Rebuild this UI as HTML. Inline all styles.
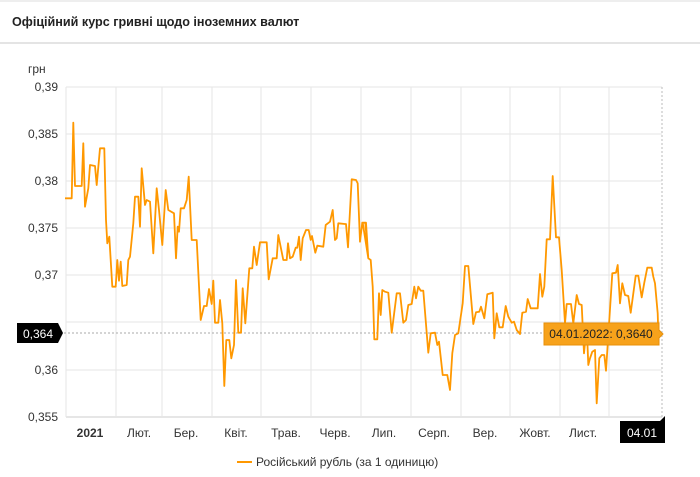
<!DOCTYPE html>
<html><head><meta charset="utf-8"><style>
body{margin:0;width:700px;height:477px;background:#fff;font-family:"Liberation Sans",sans-serif;overflow:hidden;position:relative}
.hdr{position:absolute;left:0;top:0;width:700px;height:44px;border-top:2px solid #eee;border-bottom:2px solid #e4e4e4;box-sizing:border-box}
.hdr span{position:absolute;left:12px;top:13px;font-size:12.6px;font-weight:bold;color:#222}
</style></head><body>
<div class="hdr"><span>Офіційний курс гривні щодо іноземних валют</span></div>
<svg width="700" height="477" style="position:absolute;left:0;top:0" font-family="Liberation Sans, sans-serif">
<g stroke="#e6e6e6" stroke-width="1">
<line x1="66" x2="662" y1="87" y2="87"/><line x1="66" x2="662" y1="134" y2="134"/><line x1="66" x2="662" y1="181" y2="181"/><line x1="66" x2="662" y1="228" y2="228"/><line x1="66" x2="662" y1="275" y2="275"/><line x1="66" x2="662" y1="322" y2="322"/><line x1="66" x2="662" y1="370" y2="370"/>
<line x1="66" x2="66" y1="87" y2="417"/><line x1="116" x2="116" y1="87" y2="417"/><line x1="162" x2="162" y1="87" y2="417"/><line x1="212" x2="212" y1="87" y2="417"/><line x1="261" x2="261" y1="87" y2="417"/><line x1="311" x2="311" y1="87" y2="417"/><line x1="361" x2="361" y1="87" y2="417"/><line x1="411" x2="411" y1="87" y2="417"/><line x1="461" x2="461" y1="87" y2="417"/><line x1="510" x2="510" y1="87" y2="417"/><line x1="560" x2="560" y1="87" y2="417"/><line x1="609" x2="609" y1="87" y2="417"/>
</g>
<line x1="66" x2="662" y1="417" y2="417" stroke="#e6e6e6" stroke-width="2"/>
<line x1="662" x2="662" y1="87" y2="417" stroke="#bbb" stroke-dasharray="2,2"/>
<line x1="60" x2="662" y1="333" y2="333" stroke="#aaa" stroke-dasharray="2,2"/>
<g font-size="12" fill="#333" text-anchor="end">
<text x="58" y="91">0,39</text><text x="58" y="138">0,385</text><text x="58" y="185">0,38</text><text x="58" y="232">0,375</text><text x="58" y="279">0,37</text><text x="58" y="374">0,36</text><text x="58" y="421">0,355</text>
</g>
<text x="28" y="73" font-size="12" fill="#333">грн</text>
<g font-size="12" fill="#333" text-anchor="middle">
<text x="90" y="437" font-weight="bold">2021</text><text x="139" y="437">Лют.</text><text x="186" y="437">Бер.</text><text x="236" y="437">Квіт.</text><text x="286" y="437">Трав.</text><text x="335" y="437">Черв.</text><text x="384" y="437">Лип.</text><text x="434" y="437">Серп.</text><text x="485" y="437">Вер.</text><text x="535" y="437">Жовт.</text><text x="583" y="437">Лист.</text>
</g>
<polyline id="ser" fill="none" stroke="#ff9800" stroke-width="1.8" stroke-linejoin="round"/>
<path d="M17 323H58L63 333L58 343H17Z" fill="#000"/>
<text x="38" y="338" font-size="12" fill="#fff" text-anchor="middle">0,364</text>
<path d="M620 421H660L665 416V443H620Z" fill="#000"/>
<text x="642" y="437" font-size="12" fill="#fff" text-anchor="middle">04.01</text>
<path d="M544 323H659V330L663 334L659 338V345H544Z" fill="#f7a21b" stroke="#e8900a"/>
<text x="601" y="338" font-size="12" fill="#222" text-anchor="middle">04.01.2022: 0,3640</text>
<line x1="237" x2="252" y1="462" y2="462" stroke="#ff9800" stroke-width="2"/>
<text x="256" y="466" font-size="12" fill="#333">Російський рубль (за 1 одиницю)</text>
</svg>
<script>
var a=[15,265,35,265,40,38,45,228,65,228,70,100,75,290,85,235,90,165,105,168,110,225,120,115,133,115,138,330,142,400,148,380,157,530,167,530,172,450,177,512,182,455,187,528,200,525,205,450,210,440,220,340,225,260,235,260,240,350,245,175,255,285,260,270,270,275,280,430,290,235,297,300,307,405,317,240,325,300,342,310,348,445,353,350,357,365,362,295,372,295,380,270,386,200,395,390,410,390,422,630,432,588,440,588,447,537,455,582,460,512,465,638,475,638,480,570,487,640,493,828,499,690,508,690,514,745,522,705,528,510,535,668,543,668,548,535,556,640,568,475,577,475,582,410,590,465,600,397,620,397,626,508,638,445,650,445,655,375,670,450,680,450,684,400,690,445,698,440,707,413,712,413,717,380,722,450,728,385,738,360,746,360,752,390,756,378,766,428,772,407,790,410,797,345,810,335,818,300,825,390,830,385,835,340,855,342,858,342,864,412,875,208,888,210,893,220,900,395,907,338,916,338,925,445];
var b=[8,188,18,188,25,295,32,300,38,380,43,538,52,538,57,400,62,465,67,390,75,395,85,398,95,518,110,400,120,400,130,488,138,480,145,435,155,432,163,380,168,415,175,380,182,392,190,392,205,578,212,520,225,518,232,555,237,545,248,645,262,645,270,690,277,580,285,525,295,520,308,430,315,318,325,318,340,492,348,457,358,455,363,440,373,475,382,403,398,398,403,535,410,460,418,502,428,502,437,438,445,470,455,488,462,485,470,510,480,522,487,458,498,455,503,417,512,445,533,445,540,342,547,410,553,380,560,238,570,238,578,48,588,232,597,232,605,330,615,490,620,432,633,432,640,490,650,405,657,432,665,435,672,580,680,495,685,615,690,595,697,575,705,570,710,730,718,595,725,585,733,585,738,632,748,480,757,340,768,338,773,315,780,430,787,370,795,405,805,408,812,458,827,347,835,347,845,412,853,368,862,323,875,323,880,350,885,370,893,460,895,520];
var p=[];
for(var i=0;i<a.length;i+=2)p.push((60+a[i]/3).toFixed(1)+","+(110+a[i+1]/3).toFixed(1));
for(var i=0;i<b.length;i+=2)p.push((360+b[i]/3).toFixed(1)+","+(160+b[i+1]/3).toFixed(1));
p.push("659,333");
document.getElementById("ser").setAttribute("points",p.join(" "));
</script>
</body></html>
